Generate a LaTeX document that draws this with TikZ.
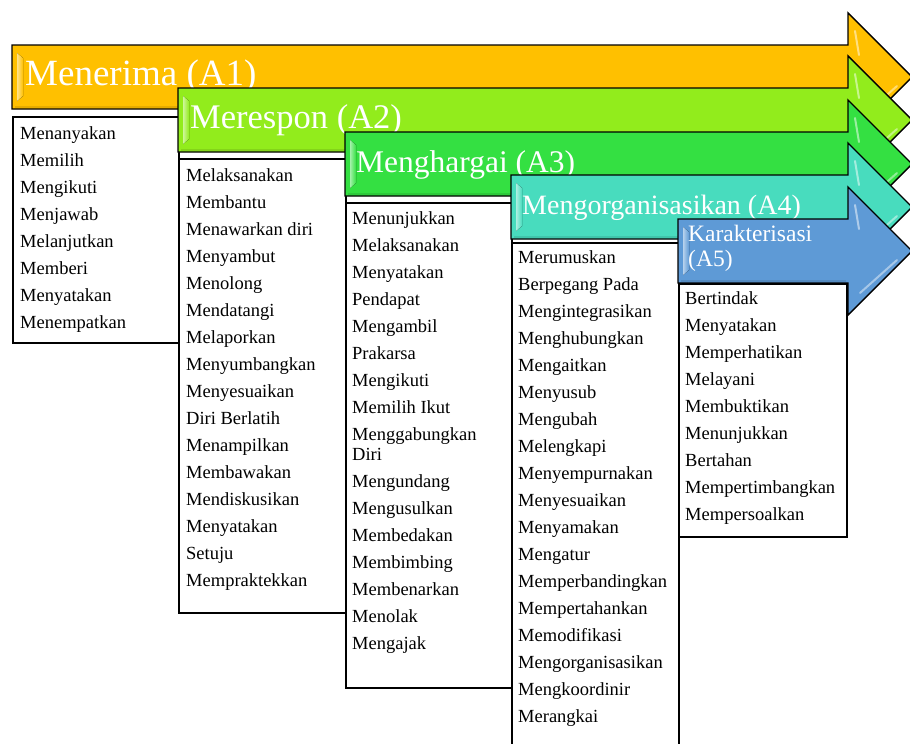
\documentclass[tikz,border=0pt]{standalone}
\usepackage{fontspec}
\setmainfont{Liberation Serif}
\definecolor{cA}{RGB}{255,192,0}
\definecolor{cB}{RGB}{146,236,28}
\definecolor{cC}{RGB}{52,224,66}
\definecolor{cD}{RGB}{72,220,190}
\definecolor{cE}{RGB}{94,154,214}
\tikzset{
  arrowbody/.style={draw=black, line width=1.4pt, line join=miter},
  listbox/.style={draw=black, line width=1.5pt, fill=white, anchor=north west, inner sep=0pt},
  listtext/.style={anchor=north west, inner sep=0pt, align=left, font=\fontsize{18.5}{20}\selectfont},
  titletext/.style={anchor=base west, inner sep=0pt, text=white},
}
% #1 left x, #2 middle y, #3 colour
\newcommand\stagearrow[3]{%
  \path[arrowbody, fill=#3] (#1,#2-32) -- (848,#2-32) -- (848,#2-64) -- (912,#2)
     -- (848,#2+64) -- (848,#2+32) -- (#1,#2+32) -- cycle;
  \fill[left color=#3!45!white, right color=#3] (#1+5,#2-24) -- (#1+11,#2-19) -- (#1+11,#2+19) -- (#1+5,#2+24) -- cycle;
  \draw[#3!75!black, line width=1.2pt, opacity=0.4] (#1+3,#2+30) -- (846,#2+30);
  \draw[white, line width=2pt, opacity=0.5, line cap=round] (855,#2-46) -- (859,#2-22);
  \draw[white, line width=2pt, opacity=0.45, line cap=round] (860,#2+42) -- (897,#2+9);
}
\begin{document}
\begin{tikzpicture}[x=1pt, y=-1pt]
\clip (0,0) rectangle (910,744);
\fill[white] (0,0) rectangle (910,744);

% A1
\stagearrow{12}{77}{cA}
\node[titletext, font=\fontsize{37}{40}\selectfont] (tA1) at (25,85) {Menerima (A1)};
\node[listbox, minimum width=166pt, minimum height=226pt] (b1) at (12,116) {};
\node[listtext] (l1) at (20,126) {\rule{0pt}{13pt}Menanyakan\\[7pt]Memilih\\[7pt]Mengikuti\\[7pt]Menjawab\\[7pt]Melanjutkan\\[7pt]Memberi\\[7pt]Menyatakan\\[7pt]Menempatkan};

% A2
\stagearrow{178}{120}{cB}
\node[titletext, font=\fontsize{34.5}{38}\selectfont] (tA2) at (190,128) {Merespon (A2)};
\node[listbox, minimum width=167pt, minimum height=454pt] (b2) at (178,158) {};
\node[listtext] (l2) at (186,168) {\rule{0pt}{13pt}Melaksanakan\\[7pt]Membantu\\[7pt]Menawarkan diri\\[7pt]Menyambut\\[7pt]Menolong\\[7pt]Mendatangi\\[7pt]Melaporkan\\[7pt]Menyumbangkan\\[7pt]Menyesuaikan\\[7pt]Diri Berlatih\\[7pt]Menampilkan\\[7pt]Membawakan\\[7pt]Mendiskusikan\\[7pt]Menyatakan\\[7pt]Setuju\\[7pt]Mempraktekkan};

% A3
\stagearrow{345}{164}{cC}
\node[titletext, font=\fontsize{31.5}{35}\selectfont] (tA3) at (356,172) {Menghargai (A3)};
\node[listbox, minimum width=166pt, minimum height=485pt] (b3) at (345,202) {};
\node[listtext] (l3) at (352,211) {\rule{0pt}{13pt}Menunjukkan\\[7pt]Melaksanakan\\[7pt]Menyatakan\\[7pt]Pendapat\\[7pt]Mengambil\\[7pt]Prakarsa\\[7pt]Mengikuti\\[7pt]Memilih Ikut\\[7pt]Menggabungkan\\Diri\\[7pt]Mengundang\\[7pt]Mengusulkan\\[7pt]Membedakan\\[7pt]Membimbing\\[7pt]Membenarkan\\[7pt]Menolak\\[7pt]Mengajak};

% A4
\stagearrow{511}{207}{cD}
\node[titletext, font=\fontsize{28}{32}\selectfont] (tA4) at (522,214) {Mengorganisasikan (A4)};
\node[listbox, minimum width=167pt, minimum height=530pt] (b4) at (511,242) {};
\node[listtext] (l4) at (518,250) {\rule{0pt}{13pt}Merumuskan\\[7pt]Berpegang Pada\\[7pt]Mengintegrasikan\\[7pt]Menghubungkan\\[7pt]Mengaitkan\\[7pt]Menyusub\\[7pt]Mengubah\\[7pt]Melengkapi\\[7pt]Menyempurnakan\\[7pt]Menyesuaikan\\[7pt]Menyamakan\\[7pt]Mengatur\\[7pt]Memperbandingkan\\[7pt]Mempertahankan\\[7pt]Memodifikasi\\[7pt]Mengorganisasikan\\[7pt]Mengkoordinir\\[7pt]Merangkai};

% A5
\stagearrow{678}{251}{cE}
\node[anchor=north west, inner sep=0pt, text=white, align=left, font=\fontsize{23.5}{25}\selectfont] (tA5) at (688,225) {Karakterisasi\\(A5)};
\node[listbox, minimum width=168pt, minimum height=253pt] (b5) at (678,283) {};
\node[listtext] (l5) at (685,291) {\rule{0pt}{13pt}Bertindak\\[7pt]Menyatakan\\[7pt]Memperhatikan\\[7pt]Melayani\\[7pt]Membuktikan\\[7pt]Menunjukkan\\[7pt]Bertahan\\[7pt]Mempertimbangkan\\[7pt]Mempersoalkan};
\end{tikzpicture}
\end{document}
